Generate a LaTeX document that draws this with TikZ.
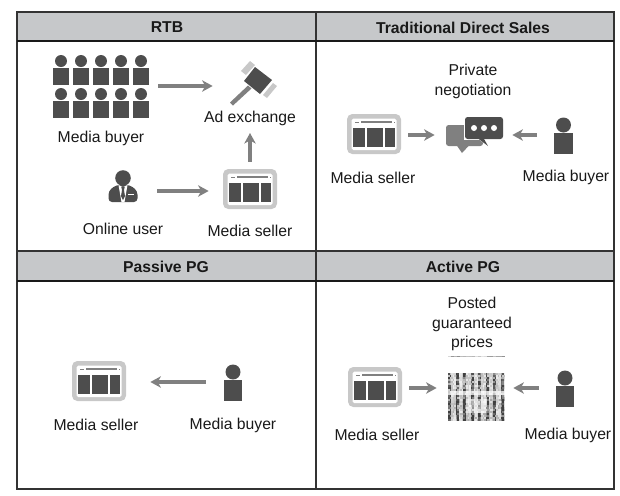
\documentclass[tikz,border=0pt]{standalone}
\usepackage{fontspec}
\setmainfont{Liberation Sans}
\usetikzlibrary{arrows.meta}

\definecolor{headgray}{HTML}{C6C8CA}
\definecolor{icondark}{HTML}{4D4D4D}
\definecolor{iconmid}{HTML}{808080}
\definecolor{iconlight}{HTML}{C8C8C8}
\definecolor{framecol}{HTML}{333333}

\tikzset{
  lbl/.style={font=\fontsize{8.95}{11.1}\selectfont, text=black!90, align=center, inner sep=0pt},
  headlbl/.style={lbl, font=\fontsize{8.95}{11.1}\selectfont\bfseries},
  slot/.style={inner sep=0pt, minimum width=#1*0.02cm, minimum height=40*0.02cm},
  flow/.style={draw=iconmid, line width=1.9pt, -{Stealth[length=6pt,width=6.5pt,inset=1.8pt]}},
  sellericon/.pic={
    \fill[iconlight, rounded corners=3pt] (-27,-20) rectangle (27,20);
    \fill[white, rounded corners=1pt] (-22.5,-15.5) rectangle (22.5,16);
    \fill[iconmid] (-13,-12.7) rectangle (18,-10.7);
    \fill[iconmid] (-19,-12.4) rectangle (-15,-11);
    \fill[iconmid] (19.5,-12.4) rectangle (21,-11);
    \fill[icondark] (-21,-5.7) rectangle (-9.3,13.3);
    \fill[icondark] (-7,-5.7) rectangle (8.7,13.3);
    \fill[icondark] (10.7,-5.7) rectangle (20.7,13.3);
  },
  buyericon/.pic={
    \fill[icondark] (0,-10.5) circle (7.5*0.02cm);
    \fill[icondark] (-9.2,-2.5) rectangle (9.2,18.5);
  },
  smallbuyer/.pic={
    \fill[icondark] (0,-8.5) circle (6*0.02cm);
    \fill[icondark] (-7.8,-1.5) rectangle (7.8,15.5);
  },
  usericon/.pic={
    \fill[icondark] (0,-10) circle (7.8*0.02cm);
    \fill[icondark, rounded corners=2pt] (-14.5,14) -- (-14.5,3) -- (-7,-3) -- (7,-3) -- (14.5,3) -- (14.5,14) -- cycle;
    \fill[white] (-4.5,-3) -- (0,-1) -- (4.5,-3) -- (1.5,14) -- (-1.5,14) -- cycle;
    \fill[icondark] (-1.8,-1.5) -- (1.8,-1.5) -- (1,2) -- (2,8) -- (0,12) -- (-2,8) -- (-1,2) -- cycle;
    \fill[white] (5,6) rectangle (11,7);
  },
  gavelicon/.pic={
    \fill[iconmid] (-2,-2.5) -- (1.5,0.5) -- (-17,17.5) -- (-20,14.5) -- cycle;
    \fill[iconlight] (-9,-17) -- (0,-27) -- (5,-23) -- (-4,-13) -- cycle;
    \fill[iconlight] (13,7) -- (23,-5) -- (27,-2) -- (17,10) -- cycle;
    \fill[icondark] (5,-21) -- (22,-8) -- (10,6) -- (-6,-7) -- cycle;
  },
  chaticon/.pic={
    \fill[iconmid, rounded corners=1.5pt] (-28.5,-10) rectangle (8.5,11);
    \fill[iconmid] (-18,10) -- (-12.5,18) -- (-5,10) -- cycle;
    \fill[white] (-11,-21) rectangle (29.5,5);
    \fill[white] (8,3) -- (14,12) -- (3,3) -- cycle;
    \fill[icondark, rounded corners=1.5pt] (-9.5,-18) rectangle (28.5,4);
    \fill[icondark] (3,3) -- (13.5,11) -- (9,3) -- cycle;
    \fill[white] (-0.5,-7) circle (3*0.02cm);
    \fill[white] (9.5,-7) circle (3*0.02cm);
    \fill[white] (19.5,-7) circle (3*0.02cm);
  },
  pricesicon/.pic={
    \pgfmathsetseed{4711}
    \foreach \i in {0,...,37}
      \foreach \j in {0,...,23} {
        \pgfmathsetmacro\tone{min(75,(mod(\i,5)<2 ? 62 : 20)*(0.3+rnd)*(\j==9||\j==10 ? 0.3 : 1)*(\j>12&&\j<20&&\i>12&&\i<26 ? 0.45 : 1)*(\j>12 ? 1.3 : 1))}
        \fill[black!\tone] (\i*1.5,\j*2) rectangle +(1.5,2);
      }
    \foreach \i in {0,...,18} {
      \pgfmathsetmacro\tone{10+35*rnd}
      \fill[black!\tone] (\i*3,-17) rectangle +(3,1);
    }
  }
}

\begin{document}
\begin{tikzpicture}[x=0.02cm,y=-0.02cm]
\useasboundingbox (0,0) rectangle (620,495);

% header bands
\fill[headgray] (17,12) rectangle (614,41);
\fill[headgray] (17,251) rectangle (614,281);
\draw[framecol, line width=.9pt] (17,12) rectangle (614,489);
\draw[framecol, line width=.9pt] (316,12) -- (316,489);
\draw[framecol, line width=.9pt] (17,251) -- (614,251);
\draw[black!90, line width=1.2pt] (17,41) -- (614,41);
\draw[black!90, line width=1.2pt] (17,281) -- (614,281);

\draw (167,27) node[headlbl] (rtbhead) {RTB};
\draw (463,28) node[headlbl] (tdshead) {Traditional Direct Sales};
\draw (166,267) node[headlbl] (passhead) {Passive PG};
\draw (463,267) node[headlbl] (acthead) {Active PG};

% RTB
\foreach \cx in {61,81,101,121,141} {
  \pic at (\cx,69.5) {smallbuyer};
  \pic at (\cx,102.5) {smallbuyer};
}
\pic at (250,88) {gavelicon};
\pic at (123,188) {usericon};
\pic at (250,189) {sellericon};

\draw (101,86) node[slot=96] (rtbbuyers) {};
\draw (250,86) node[slot=38] (rtbgavel) {};
\draw (123,191) node[slot=30] (rtbuser) {};
\draw (250,191) node[slot=54] (rtbseller) {};

\draw (101,138.5) node[lbl] (rtbbuyertxt) {Media buyer};
\draw (250,118.5) node[lbl] (rtbextxt) {Ad exchange};
\draw (123,229) node[lbl] (rtbusertxt) {Online user};
\draw (250,231) node[lbl] (rtbsellertxt) {Media seller};

% traditional direct sales
\pic at (374,134) {sellericon};
\pic at (474.5,135) {chaticon};
\pic at (563.5,135.5) {buyericon};

\draw (374,135) node[slot=54] (tdsseller) {};
\draw (474.5,135) node[slot=57] (tdschat) {};
\draw (563.5,135) node[slot=18] (tdsbuyer) {};

\draw (473,81.5) node[lbl] (tdschattxt) {Private\\negotiation};
\draw (373,178) node[lbl] (tdssellertxt) {Media seller};
\draw (566,177) node[lbl] (tdsbuyertxt) {Media buyer};

% passive PG
\pic at (99,381) {sellericon};
\pic at (233,382.5) {buyericon};

\draw (99,382) node[slot=54] (passseller) {};
\draw (233,382) node[slot=18] (passbuyer) {};

\draw (96,425) node[lbl] (passsellertxt) {Media seller};
\draw (233,425) node[lbl] (passbuyertxt) {Media buyer};

% active PG
\pic at (375,387) {sellericon};
\pic at (448,373) {pricesicon};
\pic at (565,388.5) {buyericon};

\draw (375,388) node[slot=54] (actseller) {};
\draw (476,388) node[slot=56] (actprices) {};
\draw (565,388) node[slot=18] (actbuyer) {};

\draw (472,324) node[lbl] (actpricestxt) {Posted\\guaranteed\\prices};
\draw (377,435) node[lbl] (actsellertxt) {Media seller};
\draw (568,435) node[lbl] (actbuyertxt) {Media buyer};

\coordinate (rtbexarrow) at (250,133);
\draw[flow, shorten <=.18cm, shorten >=.36cm] (rtbbuyers) to (rtbgavel);
\draw[flow, shorten <=.38cm, shorten >=.28cm] (rtbuser) to (rtbseller);
\draw[flow, shorten <=.18cm] (rtbseller) to (rtbexarrow);
\draw[flow, shorten <=.14cm, shorten >=.22cm] (tdsseller) to (tdschat);
\draw[flow, shorten <=.34cm, shorten >=.18cm] (tdsbuyer) to (tdschat);
\draw[flow, shorten <=.36cm, shorten >=.48cm] (passbuyer) to (passseller);
\draw[flow, shorten <=.14cm, shorten >=.22cm] (actseller) to (actprices);
\draw[flow, shorten <=.34cm, shorten >=.18cm] (actbuyer) to (actprices);
\end{tikzpicture}
\end{document}
